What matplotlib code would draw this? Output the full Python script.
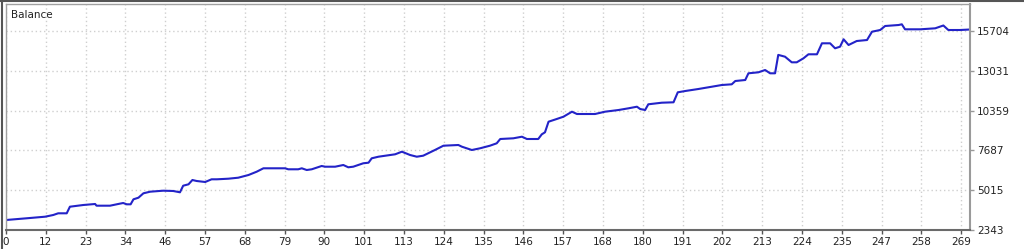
import numpy as np
import matplotlib
matplotlib.use("Agg")
import matplotlib.pyplot as plt
from matplotlib.lines import Line2D

# ---- data ----
trade = [0, 5.8, 11.0, 13.3, 14.7, 17.1, 18.0, 21.8, 25.1, 25.5, 29.3, 31.6, 33.0, 34.0, 35.1,
         35.9, 37.3, 38.7, 40.6, 44.3, 47.1, 49.0, 49.9, 51.4, 52.5, 53.7,
         56.1, 57.9, 59.4, 62.6, 65.4, 68.3, 70.6, 72.5, 78.6, 79.5, 82.3, 83.3, 84.7, 86.1,
         88.9, 89.9, 92.7, 95.0, 96.4, 97.8, 100.6, 102.1, 103.0, 104.9, 109.6,
         111.5, 113.8, 115.7, 117.5, 120.8, 123.2, 127.4, 128.4, 131.2, 133.5, 136.3, 138.2,
         139.2, 142.9, 145.3, 146.7, 149.9, 150.9, 151.8, 152.8, 155.1, 157.0, 159.4, 160.8,
         164.5, 165.9, 168.7, 172.5, 175.3, 177.7, 178.6, 180.0, 180.9, 184.7, 188.0, 189.2,
         191.3, 195.0, 198.8, 201.6, 204.4, 205.4, 208.2, 209.1, 211.9, 213.8, 215.2, 216.6,
         217.5, 219.4, 221.3, 222.7, 224.6, 226.0, 228.4, 229.8, 232.1, 233.5, 234.9, 235.9,
         237.3, 239.6, 242.5, 243.9, 246.2, 247.6, 251.4, 252.3, 253.2, 257.5, 261.7, 264.0,
         265.4, 268.7, 271.5]
balance = [3014, 3129, 3236, 3350, 3464, 3464, 3907, 4022, 4089, 3975, 3975, 4089, 4156, 4068, 4068,
           4404, 4512, 4807, 4915, 4982, 4962, 4874, 5317, 5411, 5700, 5633,
           5566, 5747, 5747, 5787, 5854, 6036, 6257, 6486, 6486, 6419, 6419, 6486, 6371, 6419,
           6640, 6593, 6593, 6707, 6553, 6593, 6821, 6862, 7157, 7264, 7426,
           7600, 7379, 7264, 7332, 7714, 8003, 8050, 7936, 7714, 7828, 8003, 8164,
           8453, 8500, 8607, 8453, 8453, 8768, 8903, 9614, 9795, 9950, 10286, 10131,
           10131, 10131, 10286, 10399, 10513, 10621, 10467, 10399, 10783, 10890, 10917, 11588,
           11675, 11810, 11964, 12078, 12125, 12347, 12414, 12864, 12931, 13085, 12864, 12864,
           14100, 13979, 13602, 13602, 13871, 14140, 14140, 14878, 14878, 14543, 14650, 15147,
           14764, 15032, 15099, 15657, 15771, 16040, 16107, 16154, 15818, 15818, 15885, 16074,
           15771, 15771, 15805]

x_labels = ["0", "12", "23", "34", "46", "57", "68", "79", "90", "101", "113", "124", "135",
            "146", "157", "168", "180", "191", "202", "213", "224", "235", "247", "258", "269"]
y_ticks = [2343, 5015, 7687, 10359, 13031, 15704]

# ---- figure ----
W, H = 1024, 249
fig = plt.figure(figsize=(W / 100, H / 100), dpi=100)
fig.patch.set_facecolor("white")
ax = fig.add_axes([6 / W, (H - 230) / H, (970 - 6) / W, (230 - 4) / H])

ax.plot(trade, balance, color="#2323c8", lw=1.5, solid_joinstyle="round")

x_pos = np.arange(len(x_labels)) * 269.0 / 24
ax.set_xticks(x_pos)
ax.set_xticklabels(x_labels)
ax.set_yticks(y_ticks)
ax.set_yticklabels([str(v) for v in y_ticks])
ax.set_xlim(0, 271.5)
ax.set_ylim(2343, 17517)

ax.yaxis.tick_right()
ax.tick_params(axis="both", labelsize=7.5, colors="#333333", length=3, width=1,
               direction="out", pad=2)
ax.tick_params(axis="x", colors="#555555", labelcolor="#222222")
ax.tick_params(axis="y", colors="#999999", labelcolor="#222222")

ax.grid(True, color="#cfcfcf", linestyle=(0, (1, 2)), linewidth=1)
for s in ["top", "left"]:
    ax.spines[s].set_color("#a0a0a0")
    ax.spines[s].set_linewidth(1)
ax.spines["bottom"].set_color("#6a6a6a")
ax.spines["bottom"].set_linewidth(1.5)
ax.spines["right"].set_color("#9a9a9a")
ax.spines["right"].set_linewidth(1.5)

ax.text(5 / (970 - 6), 1 - 6 / 226, "Balance", transform=ax.transAxes, fontsize=7.5,
        color="#222222", ha="left", va="top")

# outer frame lines (top and left)
fig.add_artist(Line2D([0, 1], [1 - 1.5 / H, 1 - 1.5 / H], transform=fig.transFigure,
                      color="#555555", lw=1.5))
fig.add_artist(Line2D([1.5 / W, 1.5 / W], [0, 1], transform=fig.transFigure,
                      color="#555555", lw=1.5))

fig.savefig("out.png", dpi=100, facecolor="white")
